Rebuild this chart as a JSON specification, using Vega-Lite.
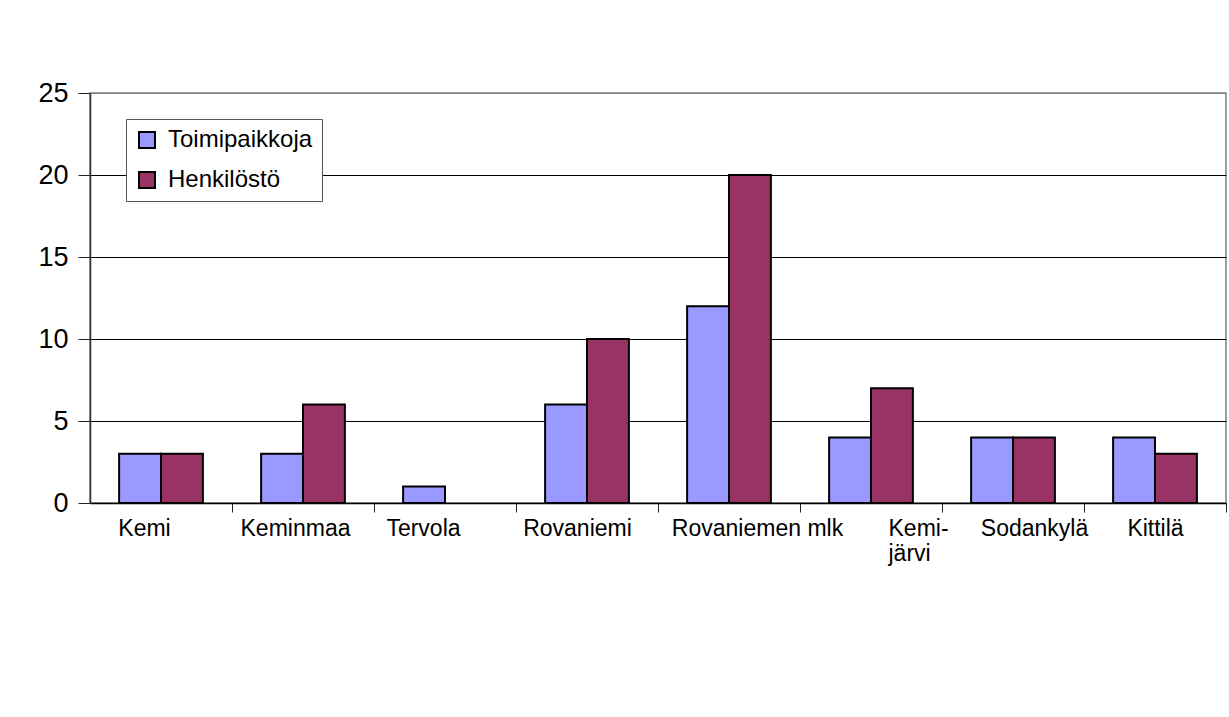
{
  "$schema": "https://vega.github.io/schema/vega-lite/v6.json",
  "autosize": {"type": "none"},
  "width": 1136,
  "height": 410,
  "padding": {"left": 90, "top": 93, "right": 3, "bottom": 214},
  "background": "white",
  "data": {
    "values": [
      {"kunta": "Kemi", "sarja": "Toimipaikkoja", "arvo": 3},
      {"kunta": "Kemi", "sarja": "Henkilöstö", "arvo": 3},
      {"kunta": "Keminmaa", "sarja": "Toimipaikkoja", "arvo": 3},
      {"kunta": "Keminmaa", "sarja": "Henkilöstö", "arvo": 6},
      {"kunta": "Tervola", "sarja": "Toimipaikkoja", "arvo": 1},
      {"kunta": "Rovaniemi", "sarja": "Toimipaikkoja", "arvo": 6},
      {"kunta": "Rovaniemi", "sarja": "Henkilöstö", "arvo": 10},
      {"kunta": "Rovaniemen mlk", "sarja": "Toimipaikkoja", "arvo": 12},
      {"kunta": "Rovaniemen mlk", "sarja": "Henkilöstö", "arvo": 20},
      {"kunta": "Kemijärvi", "sarja": "Toimipaikkoja", "arvo": 4},
      {"kunta": "Kemijärvi", "sarja": "Henkilöstö", "arvo": 7},
      {"kunta": "Sodankylä", "sarja": "Toimipaikkoja", "arvo": 4},
      {"kunta": "Sodankylä", "sarja": "Henkilöstö", "arvo": 4},
      {"kunta": "Kittilä", "sarja": "Toimipaikkoja", "arvo": 4},
      {"kunta": "Kittilä", "sarja": "Henkilöstö", "arvo": 3}
    ]
  },
  "mark": {"type": "bar", "stroke": "black", "strokeWidth": 2},
  "encoding": {
    "x": {
      "field": "kunta",
      "type": "nominal",
      "sort": ["Kemi", "Keminmaa", "Tervola", "Rovaniemi", "Rovaniemen mlk", "Kemijärvi", "Sodankylä", "Kittilä"],
      "scale": {"paddingInner": 0.41, "paddingOuter": 0.205},
      "axis": {
        "title": null,
        "labelAngle": 0,
        "labelFont": "Liberation Sans",
        "labelFontSize": 23,
        "labelColor": "black",
        "labelPadding": 5,
        "labelLineHeight": 25,
        "labelExpr": "datum.value == 'Kemijärvi' ? ['Kemi-', 'järvi'] : datum.value",
        "labelAlign": {"condition": {"test": "datum.value == 'Kemijärvi'", "value": "left"}, "value": "center"},
        "labelOffset": {
          "condition": [
            {"test": "datum.value == 'Kemi'", "value": -88},
            {"test": "datum.value == 'Keminmaa'", "value": -79},
            {"test": "datum.value == 'Tervola'", "value": -93},
            {"test": "datum.value == 'Rovaniemi'", "value": -81},
            {"test": "datum.value == 'Rovaniemen mlk'", "value": -43},
            {"test": "datum.value == 'Kemijärvi'", "value": -54},
            {"test": "datum.value == 'Sodankylä'", "value": -50}
          ],
          "value": -71
        },
        "tickOffset": 71,
        "tickSize": 9,
        "tickColor": "#222",
        "domainColor": "black",
        "domainWidth": 1.5,
        "grid": false
      }
    },
    "xOffset": {
      "field": "sarja",
      "type": "nominal",
      "sort": ["Toimipaikkoja", "Henkilöstö"],
      "scale": {"domain": ["Toimipaikkoja", "Henkilöstö"], "paddingInner": 0, "paddingOuter": 0}
    },
    "y": {
      "field": "arvo",
      "type": "quantitative",
      "scale": {"domain": [0, 25], "nice": false},
      "axis": {
        "title": null,
        "values": [0, 5, 10, 15, 20, 25],
        "labelFont": "Liberation Sans",
        "labelFontSize": 27,
        "labelColor": "black",
        "labelPadding": 10,
        "tickSize": 12,
        "tickColor": "#222",
        "domainColor": "#333",
        "domainWidth": 1.5,
        "grid": true,
        "gridColor": {"condition": {"test": "datum.value == 25", "value": "#808080"}, "value": "black"},
        "gridWidth": 1
      }
    },
    "color": {
      "field": "sarja",
      "type": "nominal",
      "scale": {"domain": ["Toimipaikkoja", "Henkilöstö"], "range": ["#9999FF", "#993366"]},
      "legend": {
        "title": null,
        "orient": "none",
        "legendX": 36,
        "legendY": 26,
        "fillColor": "white",
        "strokeColor": "#555",
        "padding": 9,
        "symbolType": "square",
        "symbolSize": 256,
        "symbolStrokeColor": "black",
        "symbolStrokeWidth": 2,
        "symbolOpacity": 1,
        "labelFont": "Liberation Sans",
        "labelFontSize": 24,
        "labelColor": "black",
        "labelOffset": 9,
        "rowPadding": 16,
        "labelLimit": 300
      }
    }
  },
  "config": {
    "view": {"stroke": "#808080", "strokeWidth": 1.5}
  }
}
